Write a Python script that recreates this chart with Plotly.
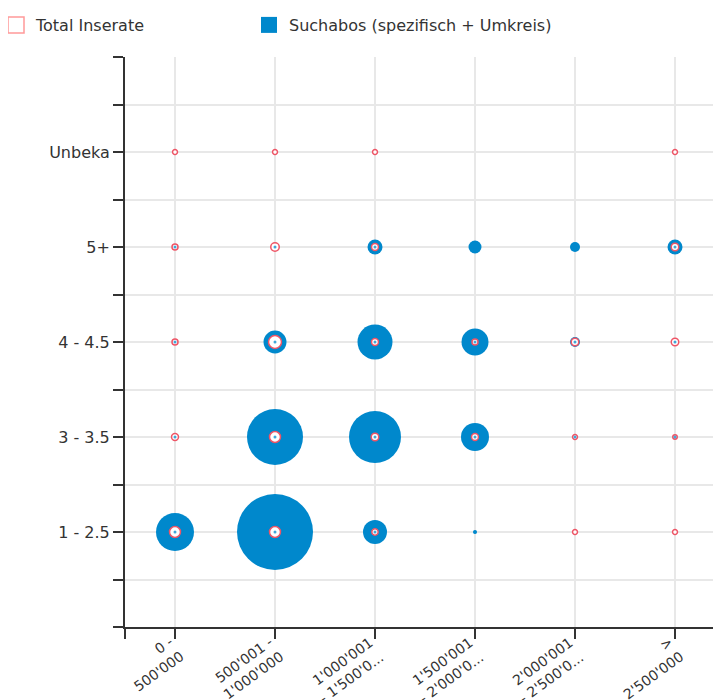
import plotly.graph_objects as go

# ---- data ----
x_labels = ["0 -<br>500'000", "500'001 -<br>1'000'000", "1'000'001<br>- 1'500'0...",
            "1'500'001<br>- 2'000'0...", "2'000'001<br>- 2'500'0...", "><br>2'500'000"]
y_labels = ["1 - 2.5", "3 - 3.5", "4 - 4.5", "5+", "Unbeka"]

# rows follow y_labels, columns follow x_labels
suchabos = [
    [361, 1444, 144, 4, 0, 0],
    [2, 784, 676, 196, 6, 5],
    [2, 132, 306, 182, 25, 3],
    [1, 5, 56, 42, 25, 56],
    [0, 0, 0, 0, 0, 0],
]
total_inserate = [
    [30, 30, 10, 0, 6, 6],
    [12, 30, 14, 12, 6, 5],
    [9, 42, 12, 9, 14, 14],
    [9, 18, 12, 0, 0, 14],
    [6, 6, 6, 0, 0, 6],
]

BLUE = "#0088CC"
RED = "#EE5566"
FONT = "DejaVu Sans"
SIZEREF = 0.5

# figure is placed by the page with an 8px body margin
W, H = 713, 692
ML, MT, MB, MR = 117, 49, 73, 0
PLOT_W = W - ML - MR


def flatten(matrix):
    xs, ys, vs = [], [], []
    for yi, row in enumerate(matrix):
        for xi, v in enumerate(row):
            if v > 0:
                xs.append(xi + 1)
                ys.append(yi + 1)
                vs.append(v)
    return xs, ys, vs


sx, sy, sv = flatten(suchabos)
tx, ty, tv = flatten(total_inserate)

fig = go.Figure()

fig.add_trace(go.Scatter(
    x=sx, y=sy, mode="markers", name="Suchabos (spezifisch + Umkreis)", showlegend=False,
    marker=dict(size=sv, sizemode="area", sizeref=SIZEREF, color=BLUE, opacity=1,
                line=dict(width=0)),
    hoverinfo="skip"))

fig.add_trace(go.Scatter(
    x=tx, y=ty, mode="markers", name="Total Inserate", showlegend=False,
    marker=dict(size=tv, sizemode="area", sizeref=SIZEREF, color="white", opacity=1,
                line=dict(width=1.5, color=RED)),
    hoverinfo="skip"))

# small centre dots of the Suchabos series
fig.add_trace(go.Scatter(
    x=sx, y=sy, mode="markers", showlegend=False,
    marker=dict(size=3, color=BLUE, opacity=0.75), hoverinfo="skip"))

# legend entries (square symbols)
fig.add_trace(go.Scatter(
    x=[None], y=[None], mode="markers", name="Total Inserate", legend="legend",
    marker=dict(symbol="square", size=16, color="white", line=dict(width=1.5, color="#FF9999"))))
fig.add_trace(go.Scatter(
    x=[None], y=[None], mode="markers", name="Suchabos (spezifisch + Umkreis)", legend="legend2",
    marker=dict(symbol="square", size=16, color=BLUE, line=dict(width=0))))

y_tickvals = [i * 0.5 for i in range(13)]
y_ticktext = [y_labels[int(v) - 1] if v in (1, 2, 3, 4, 5) else "" for v in y_tickvals]

x_tickvals = [0.5] + list(range(1, len(x_labels) + 1))

annotations = []
for i, lab in enumerate(x_labels):
    annotations.append(dict(
        x=i + 1, y=0, xref="x", yref="y", text=lab, showarrow=False,
        textangle=-36, xanchor="right", yanchor="top", align="right",
        xshift=14, yshift=-4,
        font=dict(family=FONT, size=14, color="#333333")))

legend_common = dict(orientation="h", xref="paper", yref="container",
                     xanchor="left", yanchor="top",
                     font=dict(family=FONT, size=16, color="#333333"),
                     bgcolor="rgba(0,0,0,0)")

fig.update_layout(
    width=W, height=H,
    margin=dict(l=ML, r=MR, t=MT, b=MB, autoexpand=False),
    paper_bgcolor="white", plot_bgcolor="white",
    font=dict(family=FONT, size=15, color="#333333"),
    showlegend=True,
    legend=dict(x=(-12 - ML) / PLOT_W, y=1.0, **legend_common),
    legend2=dict(x=(241 - ML) / PLOT_W, y=1.0, **legend_common),
    annotations=annotations,
    xaxis=dict(range=[0.5, 0.5 + PLOT_W / 100], tickmode="array", tickvals=x_tickvals,
               ticktext=[""] * len(x_tickvals), automargin=False,
               showgrid=True, gridcolor="#E8E8E8", gridwidth=2,
               zeroline=False, showline=True, linecolor="#333333", linewidth=2,
               ticks="outside", ticklen=10, tickwidth=2, tickcolor="#333333"),
    yaxis=dict(range=[0, 6], tickmode="array", tickvals=y_tickvals, ticktext=y_ticktext,
               automargin=False,
               showgrid=True, gridcolor="#E8E8E8", gridwidth=2,
               zeroline=False, showline=True, linecolor="#333333", linewidth=2,
               ticks="outside", ticklen=10, tickwidth=2, tickcolor="#333333",
               tickfont=dict(family=FONT, size=16, color="#333333")),
)

fig.write_html("out.html")
